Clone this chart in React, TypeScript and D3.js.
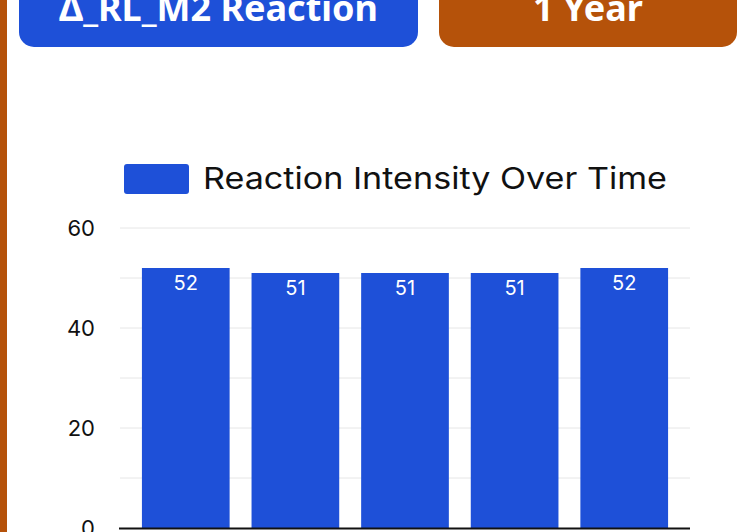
import React, { useEffect, useRef } from 'react';
import * as d3 from 'd3';

const categories = ['T1', 'T2', 'T3', 'T4', 'T5'];
const values = [52, 51, 51, 51, 52];
const yTicks = [0, 20, 40, 60];
const gridTicks = [0, 10, 20, 30, 40, 50, 60];
const seriesName = 'Reaction Intensity Over Time';
const leftTitle = 'Δ_RL_M2 Reaction';
const rightTitle = '1 Year';

const BLUE = '#1e50d8';
const ORANGE = '#b5520a';

function App() {
  const svgRef = useRef<SVGSVGElement>(null);
  const w = 741;
  const h = 532;

  useEffect(() => {
    const svg = d3.select(svgRef.current);
    svg.selectAll('*').remove();

    // left stripe
    svg.append('rect').attr('x', 0).attr('y', 0).attr('width', 7).attr('height', h).attr('fill', ORANGE);

    // header buttons (top edge runs off the page)
    const btns = [
      { x: 19, w: 399, fill: BLUE, label: leftTitle },
      { x: 439, w: 298, fill: ORANGE, label: rightTitle },
    ];
    btns.forEach(b => {
      svg.append('rect')
        .attr('x', b.x).attr('y', -30)
        .attr('width', b.w).attr('height', 77)
        .attr('rx', 15)
        .attr('fill', b.fill);
      svg.append('text')
        .attr('x', b.x + b.w / 2).attr('y', 21)
        .attr('text-anchor', 'middle')
        .attr('fill', '#fff')
        .style('font-family', '"Noto Sans", sans-serif')
        .style('font-weight', 700)
        .style('font-size', '36px')
        .text(b.label);
    });

    const x = d3.scaleBand()
      .domain(categories)
      .range([120, 690])
      .paddingInner(0.2)
      .paddingOuter(0.2);

    const y = d3.scaleLinear().domain([0, 60]).range([528, 228]);

    // legend
    svg.append('rect')
      .attr('x', 124).attr('y', 164).attr('width', 65).attr('height', 30)
      .attr('rx', 3).attr('fill', BLUE);
    svg.append('text')
      .attr('x', 203).attr('y', 189)
      .attr('fill', '#111')
      .attr('textLength', 464)
      .attr('lengthAdjust', 'spacingAndGlyphs')
      .style('font-family', 'Inter, sans-serif')
      .style('font-size', '30px')
      .text(seriesName);

    // grid
    svg.append('g')
      .selectAll('line')
      .data(gridTicks.slice(1))
      .enter()
      .append('line')
      .attr('x1', 120).attr('x2', 690)
      .attr('y1', d => y(d)).attr('y2', d => y(d))
      .attr('stroke', '#e6e6e6')
      .attr('stroke-width', 1);

    // y axis labels
    const yAxis = d3.axisLeft(y).tickValues(yTicks).tickSize(0).tickPadding(25);
    const ya = svg.append('g').attr('transform', 'translate(120,0)').call(yAxis);
    ya.select('.domain').remove();
    ya.selectAll('text')
      .attr('fill', '#111')
      .attr('dy', '0.35em')
      .style('font-family', 'Inter, sans-serif')
      .style('font-size', '22px');

    // bars
    svg.selectAll('rect.bar')
      .data(values)
      .enter()
      .append('rect')
      .attr('class', 'bar')
      .attr('x', (d, i) => x(categories[i]) as number)
      .attr('y', d => y(d))
      .attr('width', x.bandwidth())
      .attr('height', d => y(0) - y(d))
      .attr('fill', BLUE);

    svg.selectAll('text.val')
      .data(values)
      .enter()
      .append('text')
      .attr('class', 'val')
      .attr('x', (d, i) => (x(categories[i]) as number) + x.bandwidth() / 2)
      .attr('y', d => y(d) + 22)
      .attr('text-anchor', 'middle')
      .attr('fill', '#fff')
      .style('font-family', 'Inter, sans-serif')
      .style('font-size', '20px')
      .text(d => d);

    // baseline
    svg.append('line')
      .attr('x1', 119).attr('x2', 690)
      .attr('y1', 528.5).attr('y2', 528.5)
      .attr('stroke', '#111')
      .attr('stroke-width', 2);
  }, []);

  return (
    <svg ref={svgRef} width={w} height={h}
      style={{ position: 'absolute', left: 0, top: 0, background: '#fff' }} />
  );
}

export default App;
